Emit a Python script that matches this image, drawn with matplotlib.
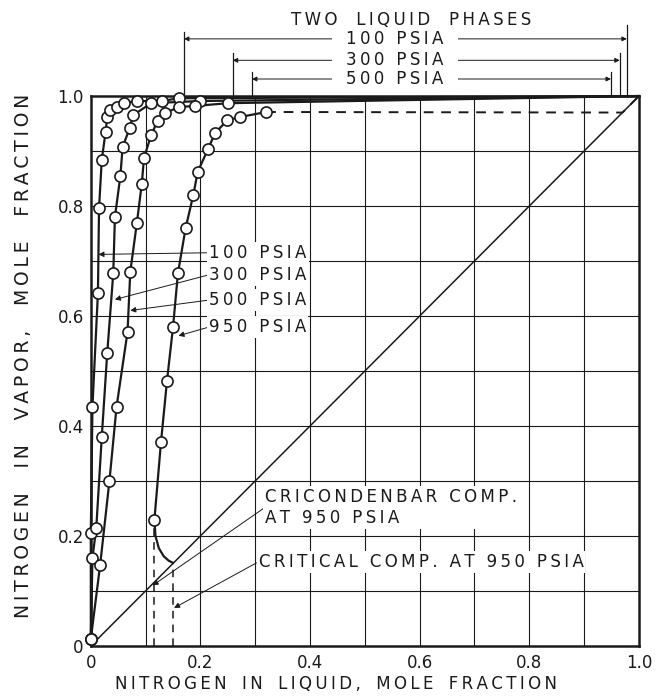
import matplotlib
matplotlib.use('Agg')
import matplotlib.pyplot as plt
import numpy as np

# vapor-liquid data (x = liquid, y = vapor)
x100 = [0.0, 0.0, 0.003, 0.013, 0.015, 0.02, 0.027, 0.03, 0.035, 0.047, 0.06, 0.084, 0.13, 0.16]
y100 = [0.012, 0.205, 0.435, 0.642, 0.796, 0.884, 0.935, 0.962, 0.975, 0.98, 0.987, 0.991, 0.991, 0.996]

x300 = [0.0, 0.003, 0.01, 0.02, 0.03, 0.041, 0.044, 0.054, 0.058, 0.071, 0.077, 0.11, 0.2]
y300 = [0.012, 0.16, 0.215, 0.38, 0.533, 0.678, 0.78, 0.855, 0.907, 0.942, 0.965, 0.987, 0.991]

x500 = [0.0, 0.017, 0.034, 0.047, 0.067, 0.072, 0.084, 0.093, 0.097, 0.11, 0.122, 0.136, 0.16, 0.19, 0.25]
y500 = [0.012, 0.147, 0.30, 0.435, 0.571, 0.68, 0.769, 0.84, 0.887, 0.929, 0.955, 0.969, 0.98, 0.982, 0.987]

x950 = [0.116, 0.128, 0.139, 0.15, 0.159, 0.173, 0.187, 0.195, 0.214, 0.227, 0.249, 0.273, 0.32]
y950 = [0.229, 0.37, 0.482, 0.58, 0.678, 0.76, 0.82, 0.862, 0.904, 0.933, 0.956, 0.962, 0.971]

# 950 psia curve below the last point, down to the critical point
x950_crit = [0.116, 0.118, 0.124, 0.133, 0.142, 0.15]
y950_crit = [0.229, 0.2, 0.178, 0.163, 0.155, 0.151]

# dashed 950 psia dew line along the top
x950_dash = [0.32, 0.97]
y950_dash = [0.971, 0.97]

cricondenbar_x = 0.115
critical_x = 0.15
critical_y = 0.151

# two liquid phase ranges (left, right) per pressure
two_liq_labels = ['100 PSIA', '300 PSIA', '500 PSIA']
two_liq_left = [0.17, 0.259, 0.294]
two_liq_right = [0.978, 0.965, 0.949]
two_liq_y = [1.104, 1.065, 1.031]
bar_top_left = [1.116, 1.078, 1.043]
bar_top_right = [1.129, 1.078, 1.043]

ticks = [0, 0.2, 0.4, 0.6, 0.8, 1.0]
tick_labels = ['0', '0.2', '0.4', '0.6', '0.8', '1.0']


def spaced(s, gap='\u2009', word='\u2009 \u2009'):
  # mimic the wide lettering of the drawing
  return word.join(gap.join(w) for w in s.split(' '))


fig = plt.figure(figsize=(6.58, 6.96), dpi=100)
ax = fig.add_axes([0.138, 0.072, 0.833, 0.790])

ink = '#1a1a1a'
fs = 12

# grid every 0.1
for v in np.arange(0.1, 1.0, 0.1):
  ax.axvline(v, color=ink, lw=0.8, zorder=1)
  ax.axhline(v, color=ink, lw=0.8, zorder=1)

# diagonal
ax.plot([0, 1], [0, 1], color=ink, lw=1.1, zorder=2)

mk = dict(marker='o', markersize=8, markerfacecolor='white', markeredgecolor=ink,
          markeredgewidth=1.2, clip_on=False, zorder=4)

for xs, ys in [(x100, y100), (x300, y300), (x500, y500)]:
  ax.plot(list(xs) + [1.0], list(ys) + [1.0], color=ink, lw=1.6, zorder=3, clip_on=False)
  ax.plot(xs, ys, linestyle='none', **mk)

ax.plot(x950, y950, color=ink, lw=1.6, zorder=3)
ax.plot(x950, y950, linestyle='none', **mk)
ax.plot(x950_crit, y950_crit, color=ink, lw=1.6, zorder=3)
ax.plot(x950_dash + [1.0], y950_dash + [1.0], color=ink, lw=1.4, linestyle=(0, (5, 4)), zorder=3)

# dashed verticals
ax.plot([cricondenbar_x, cricondenbar_x], [0, 0.215], color=ink, lw=1.1, linestyle=(0, (5, 4)), zorder=2)
ax.plot([critical_x, critical_x], [0, critical_y], color=ink, lw=1.1, linestyle=(0, (5, 4)), zorder=2)

box = dict(boxstyle='square,pad=0.12', fc='white', ec='none')
arr = dict(arrowstyle='-|>', lw=0.7, color=ink, mutation_scale=8, shrinkA=0, shrinkB=0, relpos=(0, 0.5))

# curve labels
labels = ['100 PSIA', '300 PSIA', '500 PSIA', '950 PSIA']
label_y = [0.715, 0.675, 0.629, 0.58]
tips = [(0.014, 0.712), (0.044, 0.63), (0.072, 0.61), (0.16, 0.564)]
for lab, ly, tip in zip(labels, label_y, tips):
  ax.annotate(spaced(lab), xy=tip, xytext=(0.216, ly), ha='left', va='center', fontsize=fs,
              color=ink, bbox=box, arrowprops=arr, zorder=5)

ax.annotate(spaced('CRICONDENBAR COMP.') + '\n' + spaced('AT 950 PSIA'), xy=(0.113, 0.11),
            xytext=(0.318, 0.252), ha='left', va='center', fontsize=fs, color=ink,
            linespacing=1.2, bbox=box, arrowprops=arr, zorder=5)
ax.annotate(spaced('CRITICAL COMP. AT 950 PSIA'), xy=(0.152, 0.069), xytext=(0.306, 0.153),
            ha='left', va='center', fontsize=fs, color=ink, bbox=box, arrowprops=arr, zorder=5)

# two liquid phases ranges above the plot
ax.text(0.584, 1.138, spaced('TWO LIQUID PHASES', word='\u2009\u2009 \u2009\u2009'),
        ha='center', va='center', fontsize=fs, color=ink, clip_on=False, zorder=6)
for lab, xl, xr, yy, tl, tr in zip(two_liq_labels, two_liq_left, two_liq_right, two_liq_y,
                                   bar_top_left, bar_top_right):
  ax.plot([xl, xl], [1.0, tl], color=ink, lw=0.9, clip_on=False)
  ax.plot([xr, xr], [1.0, tr], color=ink, lw=0.9, clip_on=False)
  ax.annotate('', xy=(xl, yy), xytext=(xr, yy), annotation_clip=False,
              arrowprops=dict(arrowstyle='<|-|>', lw=0.7, color=ink, mutation_scale=7,
                              shrinkA=0, shrinkB=0))
  ax.text(0.555, yy, '\u2009\u2009 ' + spaced(lab) + ' \u2009\u2009', ha='center', va='center',
          fontsize=fs, color=ink,
          bbox=dict(boxstyle='square,pad=0.12', fc='white', ec='none'), clip_on=False, zorder=5)

ax.set_xlim(0, 1)
ax.set_ylim(0, 1)
ax.set_xticks(ticks)
ax.set_xticklabels(tick_labels)
ax.set_yticks(ticks)
ax.set_yticklabels(tick_labels)
ax.tick_params(length=0, labelsize=12, colors=ink, pad=6)
ax.tick_params(axis='y', pad=5)
for s in ax.spines.values():
  s.set_linewidth(1.8)
  s.set_color(ink)

ax.set_xlabel(spaced('NITROGEN IN LIQUID, MOLE FRACTION', word='\u2009 \u2009\u2009'),
              fontsize=12, color=ink)
ax.set_ylabel(spaced('NITROGEN IN VAPOR, MOLE FRACTION', word='\u2009\u2009 \u2009\u2009\u2009'),
              fontsize=13.5, color=ink)
ax.xaxis.set_label_coords(0.447, -0.053)
ax.yaxis.set_label_coords(-0.106, 0.527)

fig.savefig('out.png', dpi=100)
